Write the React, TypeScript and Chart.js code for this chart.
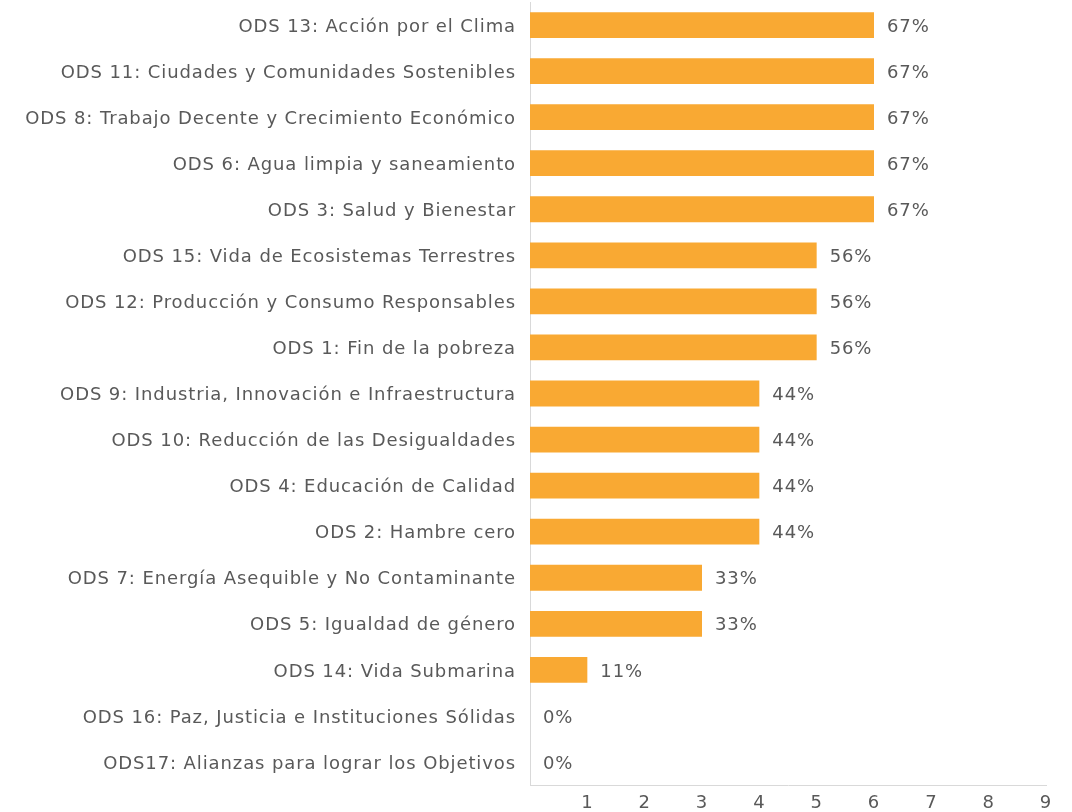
import React, { useEffect, useRef } from "react";
import { Chart, registerables } from "chart.js";

Chart.register(...registerables);

const categories: string[] = [
  "ODS 13: Acción por el Clima",
  "ODS 11: Ciudades y Comunidades Sostenibles",
  "ODS 8: Trabajo Decente y Crecimiento Económico",
  "ODS 6: Agua limpia y saneamiento",
  "ODS 3: Salud y Bienestar",
  "ODS 15: Vida de Ecosistemas Terrestres",
  "ODS 12: Producción y Consumo Responsables",
  "ODS 1: Fin de la pobreza",
  "ODS 9: Industria, Innovación e Infraestructura",
  "ODS 10: Reducción de las Desigualdades",
  "ODS 4: Educación de Calidad",
  "ODS 2: Hambre cero",
  "ODS 7: Energía Asequible y No Contaminante",
  "ODS 5: Igualdad de género",
  "ODS 14: Vida Submarina",
  "ODS 16: Paz, Justicia e Instituciones Sólidas",
  "ODS17: Alianzas para lograr los Objetivos",
];

const counts: number[] = [6, 6, 6, 6, 6, 5, 5, 5, 4, 4, 4, 4, 3, 3, 1, 0, 0];
const percentLabels: string[] = [
  "67%", "67%", "67%", "67%", "67%", "56%", "56%", "56%", "44%", "44%", "44%", "44%", "33%", "33%", "11%", "0%", "0%",
];
const xTicks: number[] = [0, 1, 2, 3, 4, 5, 6, 7, 8, 9];

const FONT = "'DejaVu Sans', sans-serif";
const FONT_SIZE = 18;
const LETTER_SPACING = "0.9px";
const TEXT = "#595959";
const BAR = "#F9A933";

const spacingPlugin = {
  id: "spacing",
  beforeLayout(chart: any) {
    chart.ctx.letterSpacing = LETTER_SPACING;
  },
  beforeDraw(chart: any) {
    chart.ctx.letterSpacing = LETTER_SPACING;
  },
};

const valueLabelPlugin = {
  id: "valueLabels",
  afterDatasetsDraw(chart: any) {
    const ctx = chart.ctx;
    const meta = chart.getDatasetMeta(0);
    ctx.save();
    ctx.letterSpacing = LETTER_SPACING;
    ctx.font = `${FONT_SIZE}px ${FONT}`;
    ctx.fillStyle = TEXT;
    ctx.textAlign = "left";
    ctx.textBaseline = "middle";
    meta.data.forEach((bar: any, i: number) => {
      ctx.fillText(percentLabels[i], bar.x + 13, bar.y + 2);
    });
    ctx.restore();
  },
};

const zeroPad = (scale: any) => {
  scale.paddingTop = 0;
  scale.paddingBottom = 0;
  scale.paddingLeft = 0;
  scale.paddingRight = 0;
};

export default function App() {
  const ref = useRef<HTMLCanvasElement>(null);
  useEffect(() => {
    document.body.style.margin = "0";
    const chart = new Chart(ref.current!, {
      type: "bar",
      data: {
        labels: categories,
        datasets: [
          {
            data: counts,
            backgroundColor: BAR,
            barPercentage: 0.56,
            categoryPercentage: 1,
          },
        ],
      },
      plugins: [spacingPlugin, valueLabelPlugin],
      options: {
        indexAxis: "y",
        animation: false,
        responsive: false,
        maintainAspectRatio: false,
        layout: { padding: { top: 2, right: 26, left: 0, bottom: 0 } },
        plugins: { legend: { display: false }, tooltip: { enabled: false } },
        scales: {
          x: {
            min: 0,
            max: 9,
            afterBuildTicks: (scale: any) => {
              scale.ticks = xTicks.map((v) => ({ value: v }));
            },
            grid: { display: false, drawTicks: false },
            border: { display: true, color: "#D9D9D9", width: 1 },
            ticks: {
              color: TEXT,
              font: { family: FONT, size: FONT_SIZE },
              padding: 8,
              maxRotation: 0,
              callback: (v: any) => (v === 0 ? "" : String(v)),
            },
            afterFit: (scale: any) => {
              scale.height = 27;
              zeroPad(scale);
            },
          },
          y: {
            grid: { display: false, drawTicks: false },
            border: { display: true, color: "#D9D9D9", width: 1 },
            ticks: {
              color: TEXT,
              font: { family: FONT, size: FONT_SIZE },
              padding: 14,
              labelOffset: 2,
              autoSkip: false,
            },
            afterFit: (scale: any) => {
              scale.width = 530;
              zeroPad(scale);
            },
          },
        },
      },
    });
    return () => chart.destroy();
  }, []);
  return (
    <div style={{ width: 1072, height: 812 }}>
      <canvas ref={ref} width={1072} height={812} style={{ display: "block" }} />
    </div>
  );
}
